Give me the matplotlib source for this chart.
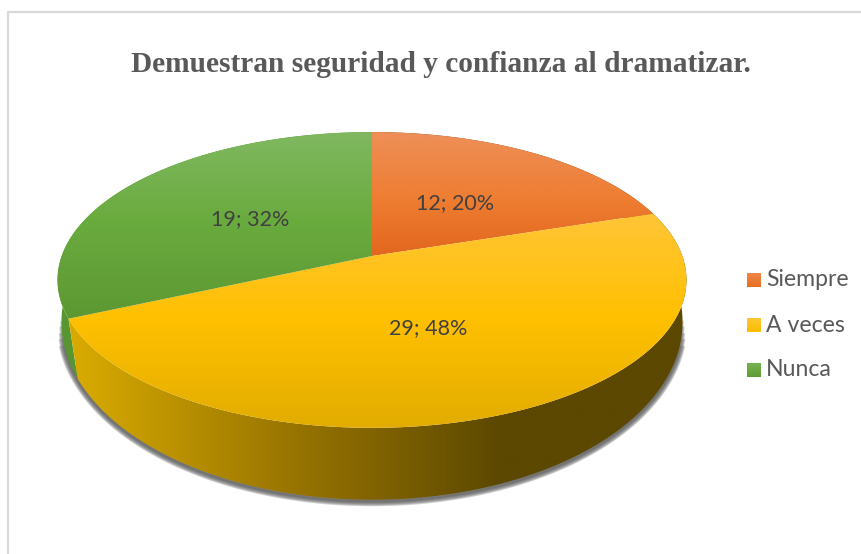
import numpy as np
import matplotlib
matplotlib.use("Agg")
from matplotlib import pyplot as plt
from matplotlib.patches import Polygon

#data
labels = ["Siempre", "A veces", "Nunca"]
values = [12, 29, 19]
title = "Demuestran seguridad y confianza al dramatizar."

#vertical gradients of the top face: (y pixel, colour)
top_grad = [
    [(132, (238, 143, 88)), (200, (238, 125, 49)), (256, (226, 102, 30))],
    [(213, (255, 197, 55)), (320, (255, 192, 0)), (428, (226, 173, 0))],
    [(132, (128, 184, 96)), (220, (106, 171, 62)), (320, (92, 152, 50))],
]
#horizontal gradients of the side wall: (x pixel, colour)
side_grad = [
    [(0, (120, 70, 30)), (861, (120, 70, 30))],
    [(75, (216, 170, 0)), (300, (150, 115, 0)), (500, (92, 72, 0)), (690, (92, 72, 0))],
    [(50, (88, 150, 50)), (90, (88, 150, 50))],
]
#legend keys, light at the top and darker below
legend_grad = [
    [(238, 135, 70), (232, 110, 35)],
    [(255, 200, 50), (250, 188, 0)],
    [(118, 178, 80), (96, 158, 52)],
]
text_col = "#595959"

cx = 372


#point on the pie rim, theta clockwise from top (perspective circle)
def rim(theta, y0, a, b, k):
    u = np.sin(theta)
    v = np.cos(theta)
    w = 1 + k * v
    return cx + a * u / w, y0 - b * v / w


def gradient(ax, stops, patch, box, vertical=True):
    pos = [s[0] for s in stops]
    lo, hi = (box[2], box[3]) if vertical else (box[0], box[1])
    t = np.linspace(lo, hi, 256)
    rgb = np.stack([np.interp(t, pos, [s[1][c] for s in stops]) for c in range(3)], axis=1) / 255
    img = rgb[:, None, :] if vertical else rgb[None, :, :]
    im = ax.imshow(img, extent=(box[0], box[1], box[3], box[2]), aspect="auto",
                   origin="upper", zorder=patch.get_zorder(), interpolation="bilinear")
    ax.add_patch(patch)
    patch.set_visible(False)
    im.set_clip_path(patch)


fig = plt.figure(figsize=(8.61, 5.54), dpi=100)
ax = fig.add_axes([0, 0, 1, 1])
ax.axis("off")

#chart frame, only left and top show in the picture
ax.plot([8, 8, 861], [554, 12, 12], color="#d9d9d9", lw=1.6, zorder=1)

total = sum(values)
edges = 2 * np.pi * np.cumsum([0] + values) / total

#top and lower disc parameters
top = (256, 310.3, 144, 0.162)
low = (304.2, 309, 176, 0.1)

#blurred shadow under the lower rim, only its front part shows
th = np.linspace(np.pi * 0.4, np.pi * 1.6, 500)
sx, sy = rim(th, *low)
sy = sy + 1.5
for lw, lim in zip([10, 8, 6, 4, 2], [345, 338, 332, 326, 320]):
    keep = sy > lim
    ax.plot(sx[keep], sy[keep], color="#585858", lw=lw * 0.72, alpha=0.3, zorder=2,
            solid_capstyle="butt")

#side walls, back ones first
for i in [0, 2, 1]:
    th = np.linspace(edges[i], edges[i + 1], 200)
    x1, y1 = rim(th, *top)
    x2, y2 = rim(th, *low)
    pts = np.r_[np.c_[x1, y1], np.c_[x2, y2][::-1]]
    z = 3 + [0, 2, 1].index(i) * 0.1
    gradient(ax, side_grad[i], Polygon(pts, closed=True, zorder=z), (0, 861, 0, 554), vertical=False)

#top face
for i in range(len(values)):
    th = np.linspace(edges[i], edges[i + 1], 200)
    x1, y1 = rim(th, *top)
    pts = np.r_[[[cx, top[0]]], np.c_[x1, y1]]
    gradient(ax, top_grad[i], Polygon(pts, closed=True, zorder=5 + i * 0.1), (0, 861, 0, 554))

#data labels
label_pos = [(455, 203), (428, 328), (250, 219)]
for v, p in zip(values, label_pos):
    txt = "%d; %d%%" % (v, round(100 * v / total))
    ax.text(p[0], p[1], txt, ha="center", va="center", fontsize=15.5, family="Lato",
            color="#404040", zorder=8)

#legend
for i, name in enumerate(labels):
    y = 280 + 45 * i
    key = Polygon([(747, y - 7), (761, y - 7), (761, y + 7), (747, y + 7)], closed=True, zorder=8)
    stops = [(y - 7, legend_grad[i][0]), (y + 7, legend_grad[i][1])]
    gradient(ax, stops, key, (747, 761, y - 7, y + 7))
    ax.text(766, y, name, ha="left", va="center", fontsize=16.6, family="Lato",
            color=text_col, zorder=8)

ax.text(441, 65, title, ha="center", va="center", fontsize=21.2, family="Liberation Serif",
        weight="bold", color=text_col, zorder=8)

ax.set_xlim(0, 861)
ax.set_ylim(554, 0)
fig.savefig("out.png", dpi=100, facecolor="white")
